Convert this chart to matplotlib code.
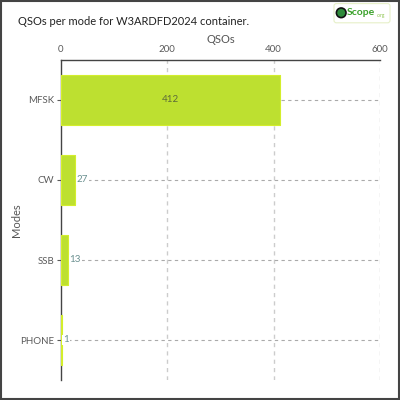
import matplotlib.pyplot as plt
from matplotlib.patches import Rectangle, FancyBboxPatch, Circle
import numpy as np

modes = ["MFSK", "CW", "SSB", "PHONE"]
qsos = [412, 27, 13, 1]
x_ticks = [0, 200, 400, 600]

plt.rcParams["font.family"] = ["Lato", "DejaVu Sans"]

BAR = "#bde030"
EDGE = "#d3ee2c"

fig = plt.figure(figsize=(4, 4), dpi=100)
ax = fig.add_axes([0.1525, 0.05, 0.7975, 0.80])

y = np.arange(len(modes))
ax.barh(y, qsos, height=0.63, color=BAR, edgecolor=EDGE, linewidth=0.8,
        joinstyle="round", zorder=3)

ax.set_xlim(0, 600)
ax.set_ylim(len(modes) - 0.5, -0.5)
ax.set_yticks(y)
ax.set_yticklabels(modes)
ax.set_xticks(x_ticks)
ax.xaxis.tick_top()
ax.xaxis.set_label_position("top")
ax.set_xlabel("QSOs", fontsize=8, color="#555555", labelpad=2)
ax.set_ylabel("Modes", fontsize=8, color="#555555")
ax.yaxis.set_label_coords(-0.122, 0.5)
ax.tick_params(axis="both", labelsize=7, colors="#5a5a5a", length=3, pad=2)
ax.tick_params(axis="x", length=0, pad=4)

for s in ["right", "bottom"]:
    ax.spines[s].set_visible(False)
for s in ["top", "left"]:
    ax.spines[s].set_color("#444444")
    ax.spines[s].set_linewidth(1.0)

for xv in x_ticks[1:]:
    ax.axvline(xv, color="#cccccc", linestyle=(0, (3, 3)), linewidth=1, zorder=1)
for yv in y:
    ax.axhline(yv, color="#aaaaaa", linestyle=(0, (3, 3)), linewidth=0.8, zorder=1)

for i, v in enumerate(qsos):
    if v > 100:
        ax.text(v / 2, i, str(v), ha="center", va="center", fontsize=7,
                color="#5d6b3a", zorder=4)
    else:
        ax.text(v + 3, i, str(v), ha="left", va="center", fontsize=7,
                color="#6a9090", zorder=4,
                bbox=dict(facecolor="white", edgecolor="none", pad=0.5))

fig.text(0.045, 0.947, "QSOs per mode for W3ARDFD2024 container.", fontsize=8,
         color="#222222", va="center", ha="left")

# logo
fig.patches.append(FancyBboxPatch((0.835, 0.943), 0.14, 0.048,
                                  boxstyle="round,pad=0,rounding_size=0.006",
                                  transform=fig.transFigure, facecolor="white",
                                  edgecolor="#e6f0c8", linewidth=0.8))
fig.patches.append(Circle((0.853, 0.968), 0.012, transform=fig.transFigure,
                          facecolor="#2e8b3a", edgecolor="#111111", linewidth=1.2))
fig.text(0.866, 0.968, "Scope", fontsize=7.5, fontweight="bold", color="#3aa12a",
         va="center", ha="left")
fig.text(0.942, 0.960, ".org", fontsize=3.5, color="#8bc34a", va="center", ha="left")

fig.patches.append(Rectangle((0.002, 0.002), 0.996, 0.996, transform=fig.transFigure,
                             fill=False, edgecolor="#444444", linewidth=1.5))

fig.savefig("out.png", dpi=100)
